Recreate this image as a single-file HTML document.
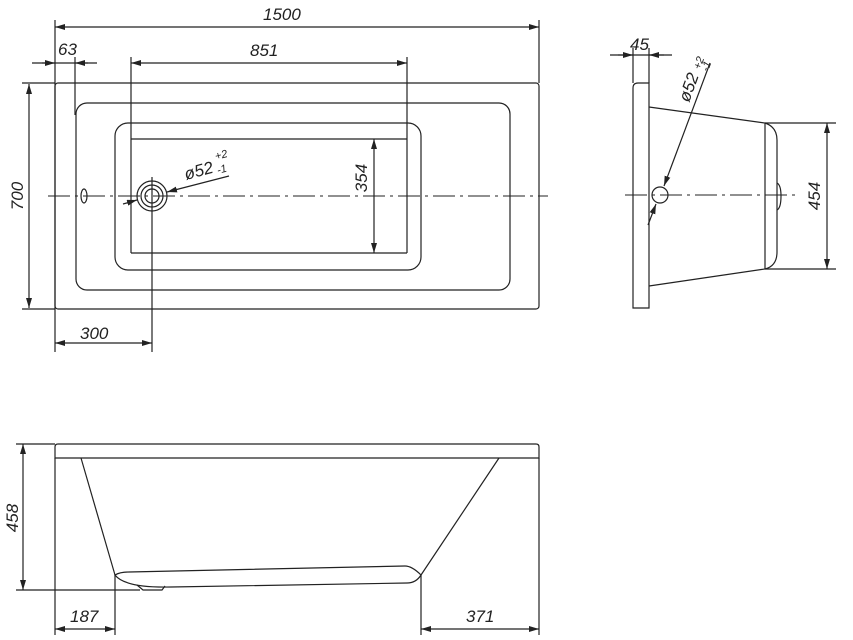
<!DOCTYPE html>
<html><head><meta charset="utf-8"><style>
html,body{margin:0;padding:0;background:#fff;}
svg{display:block;}
text{font-family:"Liberation Sans",sans-serif;font-size:17px;fill:#222;font-style:italic;}
</style></head><body>
<svg width="853" height="640" viewBox="0 0 853 640" xmlns="http://www.w3.org/2000/svg">
<defs>
<marker id="a" viewBox="0 0 10 6" refX="10" refY="3" markerWidth="10" markerHeight="6" orient="auto-start-reverse" markerUnits="userSpaceOnUse"><path d="M0,0 L10,3 L0,6 z" fill="#222"/></marker>
</defs>
<g fill="none" stroke="#222" stroke-width="1.2">
<!-- TOP VIEW -->
<line x1="55" y1="20" x2="55" y2="352"/>
<line x1="539" y1="20" x2="539" y2="83"/>
<line x1="55" y1="27" x2="539" y2="27" marker-start="url(#a)" marker-end="url(#a)"/>
<rect x="55" y="83" width="484" height="226" rx="3"/>
<line x1="22" y1="83" x2="55" y2="83"/>
<line x1="22" y1="309" x2="55" y2="309"/>
<line x1="29" y1="84" x2="29" y2="308" marker-start="url(#a)" marker-end="url(#a)"/>
<line x1="32" y1="63" x2="97" y2="63"/>
<line x1="42" y1="63" x2="55" y2="63" marker-end="url(#a)"/>
<line x1="88" y1="63" x2="75" y2="63" marker-end="url(#a)"/>
<line x1="75" y1="57" x2="75" y2="115"/>
<rect x="76" y="103" width="434" height="187" rx="11"/>
<rect x="115" y="123" width="306" height="147" rx="13"/>
<line x1="131" y1="57" x2="131" y2="253"/>
<line x1="407" y1="57" x2="407" y2="139"/>
<line x1="131" y1="63" x2="407" y2="63" marker-start="url(#a)" marker-end="url(#a)"/>
<path d="M131 139 H407 M131 253 H407 M407 139 V253"/>
<line x1="374" y1="139" x2="374" y2="253" marker-start="url(#a)" marker-end="url(#a)"/>
<line x1="48" y1="196" x2="548" y2="196" stroke-dasharray="22,5,3,5" stroke-width="1"/>
<circle cx="152" cy="196" r="15"/>
<circle cx="152" cy="196" r="11"/>
<circle cx="152" cy="196" r="7"/>
<line x1="152" y1="177" x2="152" y2="352"/>
<ellipse cx="84" cy="196" rx="3" ry="7"/>
<line x1="123" y1="204" x2="137" y2="200" marker-end="url(#a)"/>
<line x1="229" y1="176" x2="167" y2="192" marker-end="url(#a)"/>
<line x1="55" y1="343" x2="152" y2="343" marker-start="url(#a)" marker-end="url(#a)"/>

<!-- SIDE VIEW -->
<path d="M633 308 V88 Q633 83 638 83 H649 V308 Z"/>
<line x1="633" y1="48" x2="633" y2="83"/>
<line x1="649" y1="48" x2="649" y2="83"/>
<line x1="610" y1="55" x2="672" y2="55"/>
<line x1="618" y1="55" x2="633" y2="55" marker-end="url(#a)"/>
<line x1="664" y1="55" x2="649" y2="55" marker-end="url(#a)"/>
<path d="M649 107 L765 123 L765 269 L649 286"/>
<path d="M765 123 Q777 127 777 140 V252 Q777 266 765 269"/>
<path d="M777 183 Q781 185 781 196 Q781 208 777 210"/>
<line x1="765" y1="123" x2="836" y2="123"/>
<line x1="765" y1="269" x2="836" y2="269"/>
<line x1="827" y1="123" x2="827" y2="269" marker-start="url(#a)" marker-end="url(#a)"/>
<line x1="625" y1="195" x2="795" y2="195" stroke-dasharray="22,5,3,5" stroke-width="1"/>
<circle cx="660" cy="195" r="8"/>
<line x1="648" y1="225" x2="656" y2="204" marker-end="url(#a)"/>
<line x1="710" y1="63" x2="664" y2="186" marker-end="url(#a)"/>

<!-- FRONT VIEW -->
<path d="M55 458 V447 Q55 444 58 444 H536 Q539 444 539 447 V458 Z"/>
<line x1="55" y1="458" x2="55" y2="635"/>
<line x1="539" y1="458" x2="539" y2="635"/>
<line x1="81" y1="458" x2="115" y2="575"/>
<line x1="499" y1="458" x2="421" y2="575"/>
<path d="M115 575 Q120 572 129 572 L405 566 Q412 566 421 575 Q416 583 407 583 L171 587 Q125 588 115 575 Z"/>
<path d="M137 585 L143 590 H162 L165 586"/>
<line x1="16" y1="444" x2="55" y2="444"/>
<line x1="16" y1="590" x2="140" y2="590"/>
<line x1="23" y1="444" x2="23" y2="590" marker-start="url(#a)" marker-end="url(#a)"/>
<line x1="115" y1="575" x2="115" y2="635"/>
<line x1="421" y1="575" x2="421" y2="635"/>
<line x1="55" y1="629" x2="115" y2="629" marker-start="url(#a)" marker-end="url(#a)"/>
<line x1="421" y1="629" x2="539" y2="629" marker-start="url(#a)" marker-end="url(#a)"/>
</g>
<g stroke="none">
<text x="263" y="20">1500</text>
<text x="58" y="55">63</text>
<text x="250" y="56">851</text>
<text transform="translate(23,196) rotate(-90)" text-anchor="middle">700</text>
<text transform="translate(367,178) rotate(-90)" text-anchor="middle">354</text>
<text transform="translate(186,180) rotate(-15)">ø52</text>
<text transform="translate(216,160) rotate(-15)" style="font-size:11px">+2</text>
<text transform="translate(218,174) rotate(-15)" style="font-size:11px">-1</text>
<text x="80" y="339">300</text>
<text x="630" y="50">45</text>
<text transform="translate(689,103) rotate(-70)">ø52</text>
<text transform="translate(700,70) rotate(-70)" style="font-size:11px">+2</text>
<text transform="translate(708,72) rotate(-70)" style="font-size:11px">-1</text>
<text transform="translate(820,196) rotate(-90)" text-anchor="middle">454</text>
<text transform="translate(18,518) rotate(-90)" text-anchor="middle">458</text>
<text x="70" y="622">187</text>
<text x="466" y="622">371</text>
</g>
</svg>
</body></html>
